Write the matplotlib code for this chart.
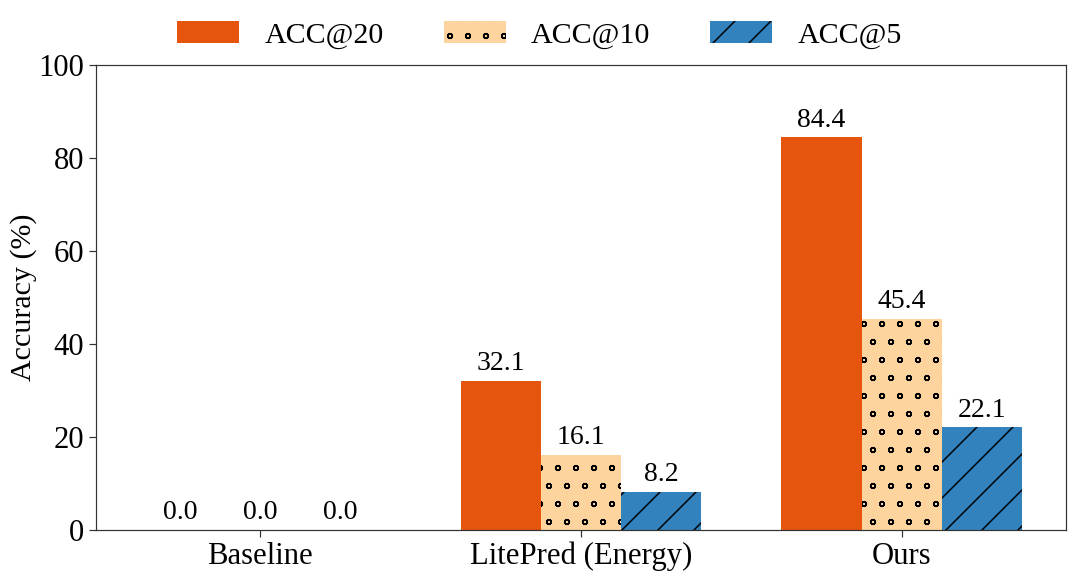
import numpy as np
import matplotlib
matplotlib.use("Agg")
import matplotlib.pyplot as plt
import matplotlib.hatch

plt.rcParams["font.family"] = ["Liberation Serif", "DejaVu Serif"]
plt.rcParams["hatch.linewidth"] = 1.0
# smaller rings for the dotted hatch
matplotlib.hatch.SmallCircles.size = 0.13

methods = ["Baseline", "LitePred (Energy)", "Ours"]
series = ["ACC@20", "ACC@10", "ACC@5"]
acc20 = [0.0, 32.1, 84.4]
acc10 = [0.0, 16.1, 45.4]
acc5 = [0.0, 8.2, 22.1]

colors = ["#E6550D", "#FDD49E", "#3182BD"]
hatches = ["", "o", "/"]

DPI = 108
fig, ax = plt.subplots(figsize=(1079 / DPI, 579 / DPI), dpi=DPI)

x = np.arange(len(methods))
w = 0.25
for i, (name, vals) in enumerate(zip(series, [acc20, acc10, acc5])):
    bars = ax.bar(x + (i - 1) * w, vals, w, label=name, color=colors[i],
                  hatch=hatches[i], edgecolor="black", linewidth=0)
    for b, v in zip(bars, vals):
        ax.annotate(f"{v:.1f}", (b.get_x() + b.get_width() / 2, v),
                    xytext=(0, 3), textcoords="offset points",
                    ha="center", va="bottom", fontsize=18.5)

ax.set_ylim(0, 100)
ax.set_xticks(x)
ax.set_xticklabels(methods)
ax.set_ylabel("Accuracy (%)", fontsize=20, labelpad=1)
ax.tick_params(labelsize=20.4, length=4.5, color="#333333")
for s in ax.spines.values():
    s.set_color("#333333")

handles, labels = ax.get_legend_handles_labels()
fig.legend(handles, labels, loc="center", bbox_to_anchor=(0.5, 1 - 35 / 579),
           ncol=3, frameon=False, fontsize=20, handlelength=2.07,
           handleheight=0.75, columnspacing=2.0, handletextpad=0.84)

fig.subplots_adjust(left=0.089, right=0.988, top=0.888, bottom=0.085)
fig.savefig("out.png", dpi=DPI)
